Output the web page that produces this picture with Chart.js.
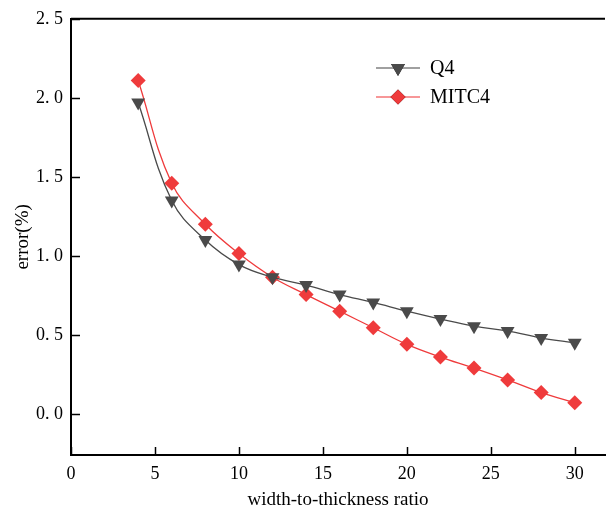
<!DOCTYPE html>
<html>
<head>
<meta charset="utf-8">
<script src="https://cdn.jsdelivr.net/npm/chart.js@4"></script>
<style>
  html, body { margin: 0; padding: 0; background: #fff; }
  #wrap { width: 606px; height: 511px; }
</style>
</head>
<body>
<div id="wrap"><canvas id="errChart" width="606" height="511"></canvas></div>
<script>
// data
const ratios = [4, 6, 8, 10, 12, 14, 16, 18, 20, 22, 24, 26, 28, 30];
const q4Err = [1.97, 1.35, 1.10, 0.945, 0.865, 0.815, 0.755, 0.705, 0.65, 0.60, 0.555, 0.525, 0.48, 0.45];
const mitc4Err = [2.11, 1.46, 1.20, 1.015, 0.865, 0.755, 0.65, 0.545, 0.44, 0.36, 0.29, 0.215, 0.135, 0.07];
const xTicks = [0, 5, 10, 15, 20, 25, 30];
const yTicks = [0, 0.5, 1.0, 1.5, 2.0, 2.5];

const serif = '"Liberation Serif", "DejaVu Serif", serif';
const q4Color = '#4a4a4a';
const mitcColor = '#ef3b3c';

function toPoints(xs, ys) {
    return xs.map((x, i) => ({ x: x, y: ys[i] }));
}

// inward ticks, top border and the legend are drawn on top of the chart
const decorPlugin = {
    id: 'decor',
    afterDraw(chart) {
        const ctx = chart.ctx;
        const a = chart.chartArea;
        const xs = chart.scales.x;
        const ys = chart.scales.y;
        ctx.save();
        ctx.strokeStyle = '#000';
        ctx.lineWidth = 2;
        ctx.beginPath();
        ctx.moveTo(a.left, a.top);
        ctx.lineTo(a.right, a.top);
        ctx.stroke();

        ctx.lineWidth = 1.5;
        xTicks.forEach(v => {
            const px = Math.round(xs.getPixelForValue(v)) + 0.5;
            ctx.beginPath();
            ctx.moveTo(px, a.bottom);
            ctx.lineTo(px, a.bottom - 8);
            ctx.stroke();
        });
        yTicks.forEach(v => {
            const py = Math.round(ys.getPixelForValue(v)) + 0.5;
            ctx.beginPath();
            ctx.moveTo(a.left, py);
            ctx.lineTo(a.left + 9, py);
            ctx.stroke();
        });

        // legend
        const items = [
            { label: 'Q4', ds: chart.data.datasets[0], y: 68 },
            { label: 'MITC4', ds: chart.data.datasets[1], y: 97 }
        ];
        items.forEach(it => {
            ctx.strokeStyle = it.ds.borderColor;
            ctx.globalAlpha = 0.7;
            ctx.lineWidth = 1.5;
            ctx.beginPath();
            ctx.moveTo(376, it.y);
            ctx.lineTo(420, it.y);
            ctx.stroke();
            ctx.globalAlpha = 1;
            Chart.helpers.drawPoint(ctx, {
                pointStyle: it.ds.pointStyle,
                rotation: it.ds.rotation,
                radius: it.ds.pointRadius,
                borderWidth: 0
            }, 398, it.y);
            ctx.fillStyle = it.ds.pointBackgroundColor;
            ctx.fill();
            ctx.fillStyle = '#000';
            ctx.font = '20px ' + serif;
            ctx.textBaseline = 'middle';
            ctx.textAlign = 'left';
            ctx.fillText(it.label, 430, it.y + 1);
        });
        ctx.restore();
    }
};

const chart = new Chart(document.getElementById('errChart'), {
    type: 'line',
    data: {
        datasets: [
            {
                label: 'Q4',
                data: toPoints(ratios, q4Err),
                borderColor: q4Color,
                borderWidth: 1.3,
                pointStyle: 'triangle',
                rotation: 180,
                pointRadius: 8,
                pointBackgroundColor: q4Color,
                pointBorderWidth: 0,
                tension: 0.4,
                fill: false
            },
            {
                label: 'MITC4',
                data: toPoints(ratios, mitc4Err),
                borderColor: mitcColor,
                borderWidth: 1.3,
                pointStyle: 'rectRot',
                pointRadius: 7.5,
                pointBackgroundColor: mitcColor,
                pointBorderWidth: 0,
                tension: 0.4,
                fill: false
            }
        ]
    },
    options: {
        responsive: false,
        animation: false,
        layout: { autoPadding: false, padding: { top: 17, right: 1, left: 0, bottom: 0 } },
        scales: {
            x: {
                type: 'linear',
                min: 0,
                max: 31.8,
                afterBuildTicks: s => { s.ticks = xTicks.map(v => ({ value: v })); },
                afterFit: s => { s.height = 56; },
                grid: { display: false, drawTicks: false },
                border: { display: true, color: '#000', width: 2 },
                ticks: {
                    color: '#000',
                    padding: 8,
                    font: { family: serif, size: 18 },
                    callback: v => String(v)
                },
                title: {
                    display: true,
                    text: 'width-to-thickness ratio',
                    color: '#000',
                    font: { family: serif, size: 19 },
                    padding: { top: 1, bottom: 0 }
                }
            },
            y: {
                type: 'linear',
                min: -0.26,
                max: 2.5,
                afterBuildTicks: s => { s.ticks = yTicks.map(v => ({ value: v })); },
                afterFit: s => { s.width = 71; },
                grid: { display: false, drawTicks: false },
                border: { display: true, color: '#000', width: 2 },
                ticks: {
                    color: '#000',
                    padding: 8,
                    font: { family: serif, size: 18 },
                    callback: v => v.toFixed(1).replace('.', '. ')
                },
                title: {
                    display: true,
                    text: 'error(%)',
                    color: '#000',
                    font: { family: serif, size: 19 },
                    padding: { top: 12, bottom: 0 }
                }
            }
        },
        plugins: {
            legend: { display: false },
            tooltip: { enabled: false }
        }
    },
    plugins: [decorPlugin]
});
</script>
</body>
</html>
